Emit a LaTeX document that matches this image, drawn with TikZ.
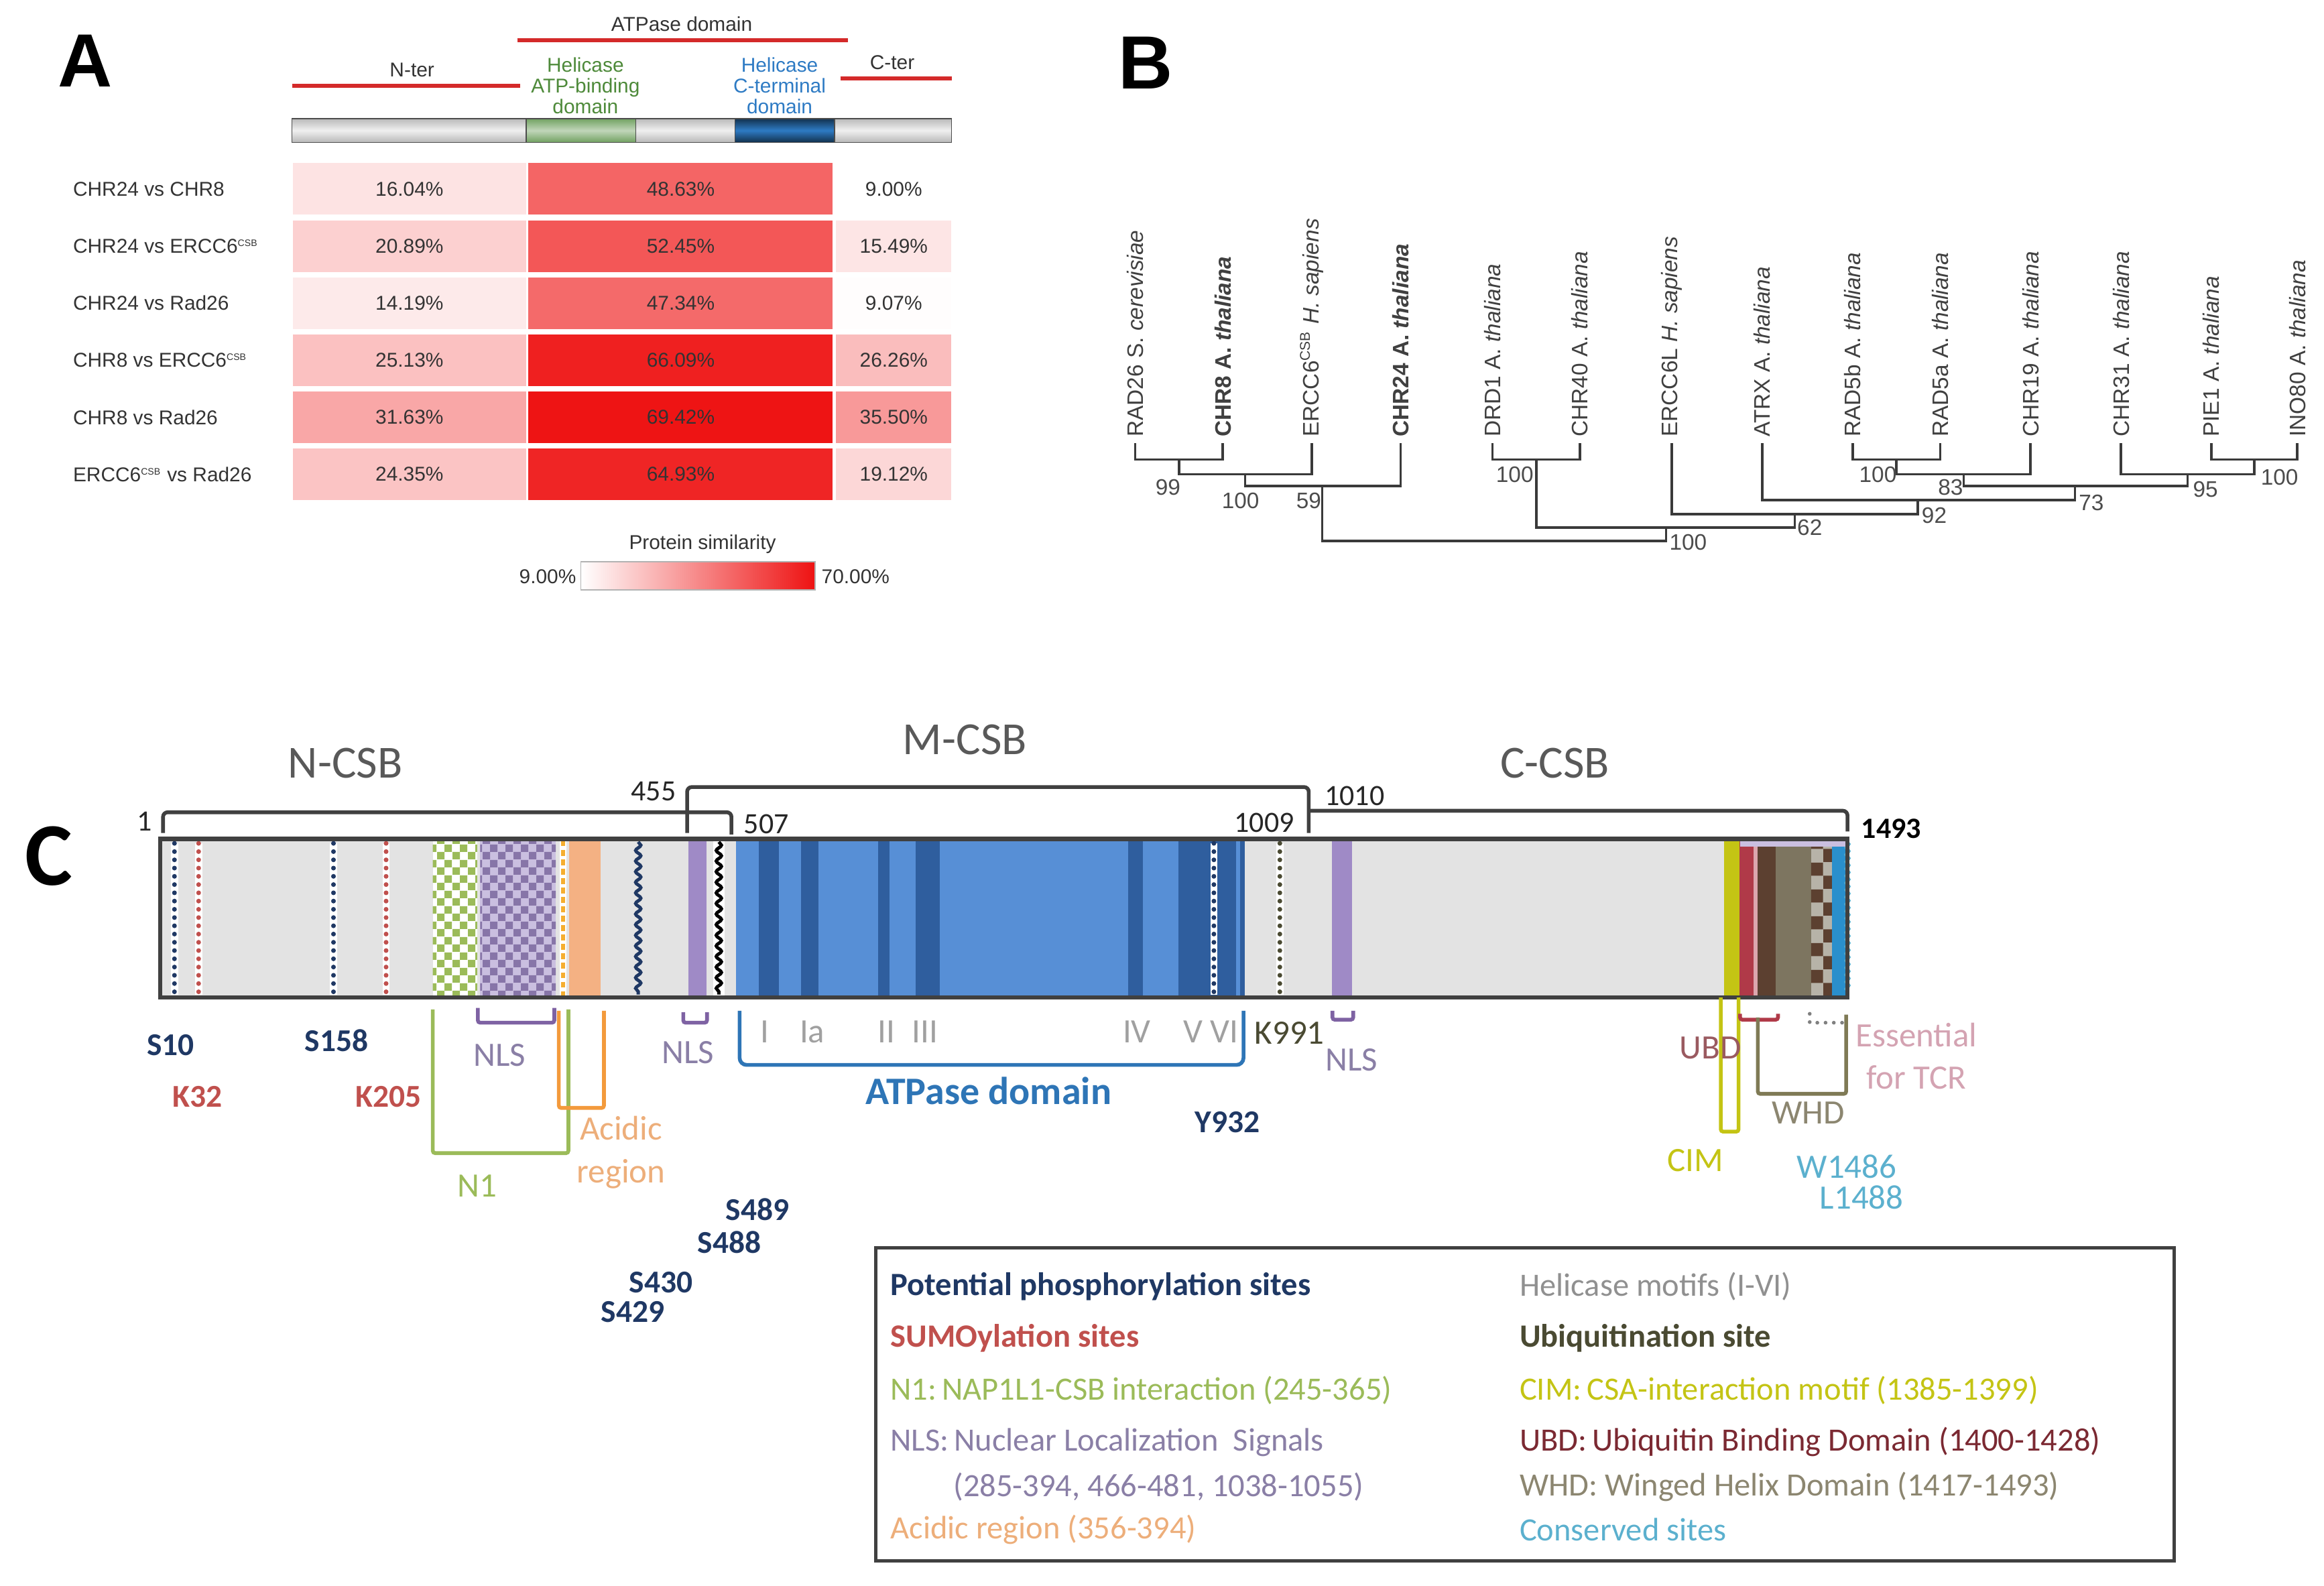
\documentclass[tikz,border=0pt]{standalone}
\usepackage{fontspec}
\setmainfont{Liberation Sans}
\newfontfamily\calib{Carlito}
\usetikzlibrary{calc,patterns,decorations.pathmorphing}
\definecolor{simred}{RGB}{238,18,18}
\definecolor{barred}{HTML}{D42A2A}
\definecolor{linegray}{HTML}{404040}
\definecolor{heligreen}{HTML}{4E8A3A}
\definecolor{heliblue}{HTML}{2E7BC4}
\definecolor{treegray}{HTML}{3A3A3A}
\definecolor{navyblue}{HTML}{1F3864}
\definecolor{sumored}{HTML}{C0504D}
\definecolor{nlspurple}{HTML}{7E62A3}
\definecolor{nlstext}{HTML}{8A7FA6}
\definecolor{nonegreen}{HTML}{9BBB59}
\definecolor{acidorange}{HTML}{F39A3C}
\definecolor{acidpeach}{HTML}{F4B183}
\definecolor{acidtext}{HTML}{EDAE7A}
\definecolor{atpblue}{HTML}{2E75B6}
\definecolor{atpfill}{HTML}{578FD6}
\definecolor{atpdark}{HTML}{2F5E9E}
\definecolor{motifgray}{HTML}{A0A0A0}
\definecolor{ubiq}{HTML}{4A4A32}
\definecolor{cimyellow}{HTML}{C4C414}
\definecolor{ubdred}{HTML}{B03A48}
\definecolor{ubdtext}{HTML}{9A5A60}
\definecolor{whdbrown}{HTML}{5C4030}
\definecolor{whdkhaki}{HTML}{7D7560}
\definecolor{whdolive}{HTML}{7F7A55}
\definecolor{whdtext}{HTML}{8C8670}
\definecolor{tcrpink}{HTML}{D4A3B2}
\definecolor{conscyan}{HTML}{5BB0CE}
\definecolor{consblue}{HTML}{2A8FCC}
\definecolor{sectgray}{HTML}{595959}
\definecolor{bargray}{HTML}{E3E3E3}
\definecolor{lavender}{HTML}{9F8AC6}
\pgfdeclarepatternformonly{bigcheck}{\pgfpointorigin}{\pgfqpoint{6.4pt}{6.4pt}}{\pgfqpoint{6.4pt}{6.4pt}}{%
  \pgfpathrectangle{\pgfpointorigin}{\pgfqpoint{3.2pt}{3.2pt}}%
  \pgfpathrectangle{\pgfqpoint{3.2pt}{3.2pt}}{\pgfqpoint{3.2pt}{3.2pt}}%
  \pgfusepath{fill}}

\begin{document}
\begin{tikzpicture}[x=0.02211cm,y=-0.02211cm]
    \tikzstyle{letter}=[font=\fontsize{32}{32}\selectfont\bfseries,inner sep=0]
    \tikzstyle{tabtxt}=[font=\fontsize{8.5}{8.8}\selectfont,text=black!80,inner sep=0]
    \tikzstyle{ncell}=[tabtxt,minimum width=3.48cm,minimum height=.77cm]
    \tikzstyle{acell}=[tabtxt,minimum width=4.54cm,minimum height=.77cm]
    \tikzstyle{ccell}=[tabtxt,minimum width=1.72cm,minimum height=.77cm]
    \tikzstyle{redbar}=[draw=barred,line width=1.8pt]
    \tikzstyle{leaftxt}=[rotate=90,anchor=west,inner sep=0,font=\fontsize{9.5}{9.5}\selectfont,text=black!75]
    \tikzstyle{boottxt}=[font=\fontsize{9.5}{9.5}\selectfont,text=black!70,inner sep=0]
    \tikzstyle{branchline}=[draw=treegray,line width=1pt]
    \tikzstyle{secttxt}=[font=\calib\fontsize{19.5}{20}\selectfont,text=sectgray,inner sep=0]
    \tikzstyle{numtxt}=[font=\calib\fontsize{12.5}{13}\selectfont,text=black!85,inner sep=0]
    \tikzstyle{sitetxt}=[font=\calib\fontsize{13.5}{15}\selectfont\bfseries,inner sep=0]
    \tikzstyle{labtxt}=[font=\calib\fontsize{14.5}{18}\selectfont,inner sep=0,align=center]
    \tikzstyle{legtxt}=[font=\calib\fontsize{13.8}{15}\selectfont,inner sep=0,anchor=west]
    \tikzstyle{spanline}=[draw=linegray,line width=1.6pt,rounded corners=2pt]
    \tikzstyle{tagline}=[line width=1.6pt,rounded corners=1pt]
    \tikzstyle{navydots}=[white,line width=3pt,postaction={draw=navyblue,line width=2pt,line cap=round,dash pattern=on 0pt off 3.5pt}]
    \tikzstyle{reddots}=[white,line width=3pt,postaction={draw=sumored,line width=2pt,line cap=round,dash pattern=on 0pt off 3.5pt}]
    \tikzstyle{wavy}=[decorate,decoration={snake,amplitude=1.1pt,segment length=4.5pt}]

    \fill[white] (0,0) rectangle (1568,1070);
    \useasboundingbox (0,0) rectangle (1568,1070);

    % panel A
    \node(A)[letter] at (57.5,41) {A};
    \node(atp)[tabtxt] at (460,16) {ATPase domain};
    \node(nter)[tabtxt] at (278,47) {N-ter};
    \node(cter)[tabtxt] at (602,42) {C-ter};
    \node(hatp)[tabtxt,text=heligreen,align=center] at (395,58) {Helicase\\ATP-binding\\domain};
    \node(hct)[tabtxt,text=heliblue,align=center] at (526,58) {Helicase\\C-terminal\\domain};
    \draw[redbar] (349,27) -- (572,27);
    \draw[redbar] (197,58) -- (351,58);
    \draw[redbar] (567,53) -- (642,53);
    \shade[top color=gray!55,bottom color=gray!55,middle color=gray!12,draw=black!70] (197,80) rectangle (642,96);
    \shade[top color=heligreen!80,bottom color=heligreen!80,middle color=heligreen!35,draw=black!70] (355,80) rectangle (429,96);
    \shade[top color=black!60!heliblue,bottom color=black!60!heliblue,middle color=heliblue,draw=black!70] (496,80) rectangle (563,96);

    \node(r1)[tabtxt,anchor=west] at (49,127.5) {CHR24 vs CHR8};
    \node(c11)[ncell,fill=simred!12] at (276.25,127.5) {16.04\%};
    \node(c12)[acell,fill=simred!65] at (459.25,127.5) {48.63\%};
    \node(c13)[ccell,fill=white] at (603,127.5) {9.00\%};
    \node(r2)[tabtxt,anchor=west] at (49,166) {CHR24 vs ERCC6\textsuperscript{\fontsize{4}{4}\selectfont CSB}};
    \node(c21)[ncell,fill=simred!20] at (276.25,166) {20.89\%};
    \node(c22)[acell,fill=simred!71] at (459.25,166) {52.45\%};
    \node(c23)[ccell,fill=simred!11] at (603,166) {15.49\%};
    \node(r3)[tabtxt,anchor=west] at (49,204.5) {CHR24 vs Rad26};
    \node(c31)[ncell,fill=simred!9] at (276.25,204.5) {14.19\%};
    \node(c32)[acell,fill=simred!63] at (459.25,204.5) {47.34\%};
    \node(c33)[ccell,fill=simred!1] at (603,204.5) {9.07\%};
    \node(r4)[tabtxt,anchor=west] at (49,243) {CHR8 vs ERCC6\textsuperscript{\fontsize{4}{4}\selectfont CSB}};
    \node(c41)[ncell,fill=simred!26] at (276.25,243) {25.13\%};
    \node(c42)[acell,fill=simred!94] at (459.25,243) {66.09\%};
    \node(c43)[ccell,fill=simred!28] at (603,243) {26.26\%};
    \node(r5)[tabtxt,anchor=west] at (49,281.5) {CHR8 vs Rad26};
    \node(c51)[ncell,fill=simred!37] at (276.25,281.5) {31.63\%};
    \node(c52)[acell,fill=simred!99] at (459.25,281.5) {69.42\%};
    \node(c53)[ccell,fill=simred!43] at (603,281.5) {35.50\%};
    \node(r6)[tabtxt,anchor=west] at (49,320) {ERCC6\textsuperscript{\fontsize{4}{4}\selectfont CSB} vs Rad26};
    \node(c61)[ncell,fill=simred!25] at (276.25,320) {24.35\%};
    \node(c62)[acell,fill=simred!92] at (459.25,320) {64.93\%};
    \node(c63)[ccell,fill=simred!17] at (603,320) {19.12\%};

    % similarity scale
    \node(sim)[tabtxt] at (474,367) {Protein similarity};
    \shade[left color=white,right color=simred,draw=black!30] (392,379) rectangle (550,398);
    \node(lo)[tabtxt,anchor=east] at (389,389) {9.00\%};
    \node(hi)[tabtxt,anchor=west] at (554,389) {70.00\%};

    % panel B
    \node(B)[letter] at (773,42.5) {B};
    \coordinate(t1) at (766,299);
    \coordinate(t2) at (825,299);
    \coordinate(t3) at (885,299);
    \coordinate(t4) at (945,299);
    \coordinate(t5) at (1007,299);
    \coordinate(t6) at (1066,299);
    \coordinate(t7) at (1128,299);
    \coordinate(t8) at (1189,299);
    \coordinate(t9) at (1250,299);
    \coordinate(t10) at (1309,299);
    \coordinate(t11) at (1370,299);
    \coordinate(t12) at (1431,299);
    \coordinate(t13) at (1492,299);
    \coordinate(t14) at (1550,299);
    \node(l1)[leaftxt] at ($(t1)+(0,-4)$) {RAD26 S. \textit{cerevisiae}};
    \node(l2)[leaftxt] at ($(t2)+(0,-4)$) {\bfseries CHR8 A. \textit{thaliana}};
    \node(l3)[leaftxt] at ($(t3)+(0,-4)$) {ERCC6\textsuperscript{\fontsize{6}{6}\selectfont CSB} \textit{H. sapiens}};
    \node(l4)[leaftxt] at ($(t4)+(0,-4)$) {\bfseries CHR24 A. \textit{thaliana}};
    \node(l5)[leaftxt] at ($(t5)+(0,-4)$) {DRD1 A. \textit{thaliana}};
    \node(l6)[leaftxt] at ($(t6)+(0,-4)$) {CHR40 A. \textit{thaliana}};
    \node(l7)[leaftxt] at ($(t7)+(0,-4)$) {ERCC6L \textit{H. sapiens}};
    \node(l8)[leaftxt] at ($(t8)+(0,-4)$) {ATRX A. \textit{thaliana}};
    \node(l9)[leaftxt] at ($(t9)+(0,-4)$) {RAD5b A. \textit{thaliana}};
    \node(l10)[leaftxt] at ($(t10)+(0,-4)$) {RAD5a A. \textit{thaliana}};
    \node(l11)[leaftxt] at ($(t11)+(0,-4)$) {CHR19 A. \textit{thaliana}};
    \node(l12)[leaftxt] at ($(t12)+(0,-4)$) {CHR31 A. \textit{thaliana}};
    \node(l13)[leaftxt] at ($(t13)+(0,-4)$) {PIE1 A. \textit{thaliana}};
    \node(l14)[leaftxt] at ($(t14)+(0,-4)$) {INO80 A. \textit{thaliana}};
    % inner nodes
    \coordinate(n1) at (795.5,310);
    \coordinate(n2) at (840,320);
    \coordinate(n3) at (892,328);
    \coordinate(n4) at (1036.5,310);
    \coordinate(n5) at (1279.5,310);
    \coordinate(n6) at (1325,320);
    \coordinate(n7) at (1521,310);
    \coordinate(n8) at (1476,320);
    \coordinate(n9) at (1400,328);
    \coordinate(n10) at (1294,337.5);
    \coordinate(n11) at (1211,347);
    \coordinate(n12) at (1124,356);
    \coordinate(n13) at (1008,365);
    \draw[branchline] (t1) |- (n1) -| (t2);
    \draw[branchline] (n1) |- (n2) -| (t3);
    \draw[branchline] (n2) |- (n3) -| (t4);
    \draw[branchline] (t5) |- (n4) -| (t6);
    \draw[branchline] (t9) |- (n5) -| (t10);
    \draw[branchline] (n5) |- (n6) -| (t11);
    \draw[branchline] (t13) |- (n7) -| (t14);
    \draw[branchline] (t12) |- (n8) -| (n7);
    \draw[branchline] (n6) |- (n9) -| (n8);
    \draw[branchline] (t8) |- (n10) -| (n9);
    \draw[branchline] (t7) |- (n11) -| (n10);
    \draw[branchline] (n4) |- (n12) -| (n11);
    \draw[branchline] (n3) |- (n13) -| (n12);
    % bootstrap values
    \node(b1)[boottxt] at ($(n1)+(-7.5,19)$) {99};
    \node(b2)[boottxt] at ($(n2)+(-3,18)$) {100};
    \node(b3)[boottxt] at ($(n3)+(-9,10)$) {59};
    \node(b4)[boottxt] at ($(n4)+(-14.5,10)$) {100};
    \node(b5)[boottxt] at ($(n5)+(-12.5,10)$) {100};
    \node(b6)[boottxt] at ($(n6)+(-9,9)$) {83};
    \node(b7)[boottxt] at ($(n7)+(17,12)$) {100};
    \node(b8)[boottxt] at ($(n8)+(12,10)$) {95};
    \node(b9)[boottxt] at ($(n9)+(11,11)$) {73};
    \node(b10)[boottxt] at ($(n10)+(11,10.5)$) {92};
    \node(b11)[boottxt] at ($(n11)+(10,9)$) {62};
    \node(b12)[boottxt] at ($(n12)+(15,10)$) {100};

    % panel C
    \node(C)[font=\calib\fontsize{38}{38}\selectfont\bfseries,inner sep=0] at (33,577.5) {C};
    \node(ncsb)[secttxt] at (233,515) {N-CSB};
    \node(mcsb)[secttxt] at (651,499) {M-CSB};
    \node(ccsb)[secttxt] at (1049,515) {C-CSB};
    \draw[spanline] (110,562) -- (110,548) -- (493.5,548) -- (493.5,563);
    \draw[spanline] (463.6,562) -- (463.6,531) -- (883,531) -- (883,562);
    \draw[spanline] (883,547) -- (1246.5,547) -- (1246.5,561);
    \node(p1)[numtxt,anchor=east] at (103,554) {1};
    \node(p455)[numtxt] at (441,534) {455};
    \node(p507)[numtxt] at (517,556) {507};
    \node(p1009)[numtxt] at (853,555) {1009};
    \node(p1010)[numtxt] at (914,537) {1010};
    \node(p1493)[numtxt,font=\calib\fontsize{12.5}{13}\selectfont\bfseries,text=black] at (1276,559) {1493};

    % protein bar
    \fill[bargray] (108,566) rectangle (1246.5,673);
    \fill[atpfill] (496.6,566) rectangle (840,673);
    \fill[atpdark] (512,566) rectangle (525.6,673);
    \fill[atpdark] (540.5,566) rectangle (552,673);
    \fill[atpdark] (592.5,566) rectangle (600,673);
    \fill[atpdark] (618,566) rectangle (634,673);
    \fill[atpdark] (761,566) rectangle (771,673);
    \fill[atpdark] (795,566) rectangle (834,673);
    \fill[atpdark] (836.5,566) rectangle (840,673);
    \draw[navydots] (819,569) -- (819,671);
    \fill[pattern=bigcheck,pattern color=nonegreen,preaction={fill=white}] (292,566) rectangle (322,673);
    \fill[pattern=bigcheck,pattern color=lavender!85!black,preaction={fill=lavender!55}] (324,566) rectangle (375,673);
    \draw[white,line width=2.8pt] (380,567) -- (380,672);
    \draw[acidorange!80!yellow,line width=1.7pt,dash pattern=on 2.5pt off 1.5pt] (380,567) -- (380,672);
    \fill[acidpeach] (384,566) rectangle (405,673);
    \draw[navyblue,line width=1.4pt,wavy] (430.6,568) -- (430.6,671);
    \fill[lavender] (464.5,566) rectangle (476.5,673);
    \fill[white] (481,566) rectangle (489,673);
    \draw[black,line width=1.4pt,wavy] (485,568) -- (485,671);
    \fill[lavender] (898.6,566) rectangle (912,673);
    \draw[navydots] (117.7,569) -- (117.7,671);
    \draw[reddots] (134,569) -- (134,671);
    \draw[navydots] (225,569) -- (225,671);
    \draw[reddots] (260.5,569) -- (260.5,671);
    \draw[white,line width=3pt,postaction={draw=ubiq,line width=2pt,line cap=round,dash pattern=on 0pt off 3.5pt}] (863.5,569) -- (863.5,671);
    % C-terminal region
    \fill[cimyellow] (1163,566) rectangle (1173.7,673);
    \fill[ubdred] (1173.7,566) rectangle (1183,673);
    \fill[ubdred!45!white] (1183,566) rectangle (1186,673);
    \fill[whdbrown] (1186,566) rectangle (1198,673);
    \fill[whdkhaki] (1198,566) rectangle (1222,673);
    \fill[pattern=checkerboard,pattern color=whdbrown,preaction={fill=whdkhaki!55!white}] (1222,566) rectangle (1236,673);
    \fill[consblue] (1236,566) rectangle (1246.5,673);
    \draw[conscyan,line width=1pt,decorate,decoration={snake,amplitude=.8pt,segment length=3pt}] (1246.5,568) -- (1246.5,671);
    \fill[lavender!55] (1174,567) rectangle (1246,571);
    \draw[linegray,line width=1.8pt] (108,566) rectangle (1246.5,673);

    % domain brackets
    \draw[tagline,nonegreen] (292,681) -- (292,778) -- (383.5,778) -- (383.5,681);
    \draw[tagline,acidorange] (377,682) -- (377,747.5) -- (407.5,747.5) -- (407.5,682);
    \draw[tagline,nlspurple] (322.4,680) -- (322.4,690) -- (374,690) -- (374,680);
    \draw[tagline,nlspurple] (461,683) -- (461,690) -- (477,690) -- (477,683);
    \draw[tagline,nlspurple] (899,682) -- (899,688) -- (913,688) -- (913,682);
    \draw[tagline,atpblue,rounded corners=3pt] (499,682) -- (499,718.5) -- (839,718.5) -- (839,682);
    \draw[tagline,cimyellow] (1161,673) -- (1161,763.5) -- (1173,763.5) -- (1173,673);
    \draw[tagline,ubdred] (1174,684) -- (1174,688) -- (1199.6,688) -- (1199.6,684);
    \draw[tagline,whdolive] (1186,686.5) -- (1186,738) -- (1245.6,738) -- (1245.6,684.5);
    \draw[gray,line width=1.6pt,line cap=round,dash pattern=on 0pt off 3.5pt] (1221,684) -- (1221,690) -- (1245.6,690);

    % sites and labels
    \node(s10)[sitetxt,text=navyblue] at (115,705) {S10};
    \node(k32)[sitetxt,text=sumored] at (133,740) {K32};
    \node(s158)[sitetxt,text=navyblue] at (227,702) {S158};
    \node(k205)[sitetxt,text=sumored] at (262,740) {K205};
    \node(nls1)[labtxt,text=nlstext] at (337,712) {NLS};
    \node(nls2)[labtxt,text=nlstext] at (464,710) {NLS};
    \node(nls3)[labtxt,text=nlstext] at (912,715) {NLS};
    \node(n1lab)[labtxt,text=nonegreen] at (322,800) {N1};
    \node(acid)[labtxt,text=acidtext] at (419,777.5) {Acidic\\region};
    \node(mI)[labtxt,text=motifgray] at (516,696) {I};
    \node(mIa)[labtxt,text=motifgray] at (548,696) {Ia};
    \node(mII)[labtxt,text=motifgray] at (598,696) {II};
    \node(mIII)[labtxt,text=motifgray] at (624,696) {III};
    \node(mIV)[labtxt,text=motifgray] at (767,696) {IV};
    \node(mV)[labtxt,text=motifgray] at (805,696) {V};
    \node(mVI)[labtxt,text=motifgray] at (826,696) {VI};
    \node(k991)[labtxt,text=ubiq] at (870,697) {K991};
    \node(atpc)[font=\calib\fontsize{16.5}{18}\selectfont\bfseries,text=atpblue,inner sep=0] at (667,736) {ATPase domain};
    \node(y932)[sitetxt,text=navyblue] at (828,757) {Y932};
    \node(s489)[sitetxt,text=navyblue] at (511,816) {S489};
    \node(s488)[sitetxt,text=navyblue] at (492,838) {S488};
    \node(s430)[sitetxt,text=navyblue] at (446,865) {S430};
    \node(s429)[sitetxt,text=navyblue] at (427,885) {S429};
    \node(ubd)[labtxt,text=ubdtext] at (1154,707) {UBD};
    \node(tcr)[labtxt,text=tcrpink] at (1293,712.5) {Essential\\for TCR};
    \node(whd)[labtxt,text=whdtext] at (1220,751) {WHD};
    \node(cim)[labtxt,text=cimyellow] at (1144,783) {CIM};
    \node(w1486)[labtxt,text=conscyan] at (1246,787) {W1486};
    \node(l1488)[labtxt,text=conscyan] at (1256,808) {L1488};

    % legend
    \draw[linegray,line width=1.4pt] (591,842) rectangle (1467,1053);
    \node(lg1)[legtxt,text=navyblue,font=\calib\fontsize{13.8}{15}\selectfont\bfseries] at (600.5,868) {Potential phosphorylation sites};
    \node(lg2)[legtxt,text=sumored,font=\calib\fontsize{13.8}{15}\selectfont\bfseries] at (600.5,903) {SUMOylation sites};
    \node(lg3)[legtxt,text=nonegreen] at (600.5,938) {N1:\,NAP1L1-CSB interaction (245-365)};
    \node(lg4)[legtxt,text=nlstext] at (600.5,973) {NLS:\,Nuclear Localization \ Signals};
    \node(lg5)[legtxt,text=nlstext] at (643,1003) {(285-394, 466-481, 1038-1055)};
    \node(lg6)[legtxt,text=acidtext] at (600.5,1032) {Acidic region (356-394)};
    \node(lg7)[legtxt,text=motifgray!90!black] at (1025,868) {Helicase motifs (I-VI)};
    \node(lg8)[legtxt,text=ubiq,font=\calib\fontsize{13.8}{15}\selectfont\bfseries] at (1025,903) {Ubiquitination site};
    \node(lg9)[legtxt,text=cimyellow] at (1025,938) {CIM:\,CSA-interaction motif (1385-1399)};
    \node(lg10)[legtxt,text=ubdred!70!black] at (1025,973) {UBD:\,Ubiquitin Binding Domain (1400-1428)};
    \node(lg11)[legtxt,text=whdtext] at (1025,1003) {WHD: Winged Helix Domain (1417-1493)};
    \node(lg12)[legtxt,text=conscyan] at (1025,1032) {Conserved sites};
\end{tikzpicture}
\end{document}
